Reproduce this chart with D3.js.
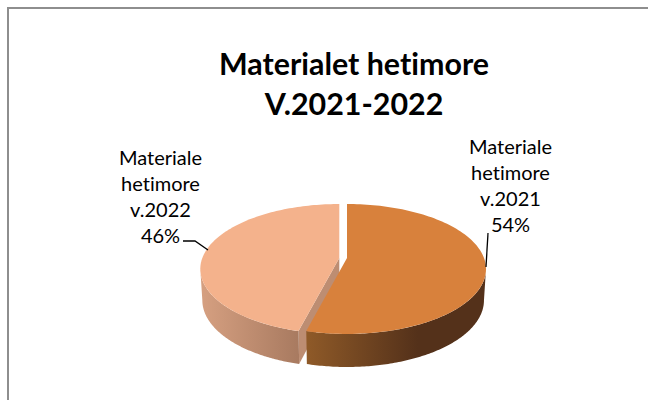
<!DOCTYPE html>
<html><head><meta charset="utf-8">
<style>html,body{margin:0;padding:0;background:#fff}svg{display:block}text{font-variant-ligatures:none}</style>
<script src="https://cdnjs.cloudflare.com/ajax/libs/d3/7.8.5/d3.min.js"></script>
</head><body><svg id="c" width="648" height="400"></svg>
<script>
const categories = ["Materiale hetimore v.2021", "Materiale hetimore v.2022"];
const values = [54, 46];
const labelLines = [["Materiale","hetimore","v.2021","54%"],["Materiale","hetimore","v.2022","46%"]];
const titleLines = ["Materialet hetimore","V.2021-2022"];
const topColors = ["#d8813c","#f4b28c"];
const wallStops = [[["#8f5a28",0],["#54311a",0.62],["#54311a",1]],[["#d6a081",0],["#a87a60",1]]];
const cutColor = "#bd8d72";

const svg = d3.select("#c");
const FONT = "Lato, 'Open Sans', sans-serif";
svg.append("rect").attr("width",648).attr("height",400).attr("fill","#fff");
svg.append("path").attr("d","M8 400V8H648").attr("fill","none").attr("stroke","#8e8e8e").attr("stroke-width",2);

const pie = d3.pie().sort(null).startAngle(0).endAngle(2*Math.PI)(values);
const slicesOffset = [347, 339.3];
const k=0.169, R=137, cy=258, H=63.1, depth=31, RB=135, HB=64.8;
function proj(cx,a,bottom){
  const s=Math.sin(a), v=Math.cos(a), w=1+k*v;
  return [cx+(bottom?RB:R)*s/w, cy+(bottom?depth:0)-(bottom?HB:H)*v/w];
}
const line = d3.line();
function arcPts(cx,a0,a1,bottom){
  return d3.range(0,121).map(i=>proj(cx,a0+(a1-a0)*i/120,bottom));
}
const defs = svg.append("defs");
const order=[1,0];
order.forEach(i=>{
  const p=pie[i], cx=slicesOffset[i];
  const lo=Math.max(p.startAngle,Math.PI/2+0.17), hi=Math.min(p.endAngle,3*Math.PI/2-0.17);
  const top=arcPts(cx,lo,hi,false), bot=arcPts(cx,lo,hi,true).reverse();
  const xs=top.map(d=>d[0]).concat(bot.map(d=>d[0]));
  const [xMin,xMax]=d3.extent(xs);
  const g=defs.append("linearGradient").attr("id","w"+i).attr("gradientUnits","userSpaceOnUse")
    .attr("x1",xMin).attr("x2",xMax).attr("y1",0).attr("y2",0);
  wallStops[i].forEach(s=>g.append("stop").attr("offset",s[1]).attr("stop-color",s[0]));
  if(i==1){
    const ap=[cx,cy], apB=[cx,cy+depth], e=proj(cx,p.startAngle,false), eB=proj(cx,p.startAngle,true);
    svg.append("path").attr("d",line([ap,apB,eB,e])+"Z").attr("fill",cutColor);
  }
  svg.append("path").attr("d",line(top.concat(bot))+"Z").attr("fill","url(#w"+i+")");
  const face=[[cx,cy]].concat(arcPts(cx,p.startAngle,p.endAngle,false));
  svg.append("path").attr("d",line(face)+"Z").attr("fill",topColors[i]);
});

svg.append("g").selectAll("text").data(titleLines).join("text")
  .attr("x",354).attr("y",(d,i)=>75+i*40).attr("text-anchor","middle")
  .attr("font-family",FONT).attr("font-weight",700).attr("font-size",30.4).attr("fill","#000").text(d=>d);

const labelX=[510.5,160.5], labelY=[154,165];
labelLines.forEach((ls,i)=>{
  svg.append("g").selectAll("text").data(ls).join("text")
   .attr("x",labelX[i]).attr("y",(d,j)=>labelY[i]+j*26).attr("text-anchor","middle")
   .attr("font-family",FONT).attr("font-size",20).attr("fill","#000").text(d=>d);
});
const leaders=[[[488,233],[486,267]],[[183,241],[195,241],[208,250]]];
leaders.forEach(l=>svg.append("path").attr("d",line(l)).attr("fill","none").attr("stroke","#000").attr("stroke-width",1.3));
</script></body></html>
